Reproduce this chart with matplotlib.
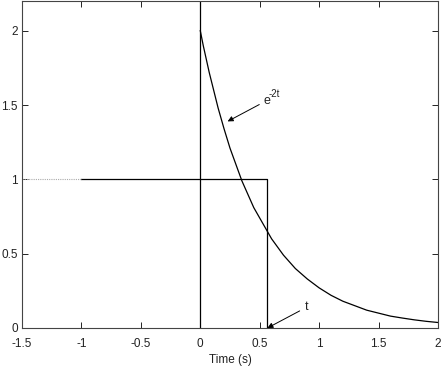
import matplotlib.pyplot as plt

plt.rcParams['font.family'] = ['Liberation Sans', 'DejaVu Sans']
plt.rcParams['axes.unicode_minus'] = False

# decaying curve
curve_t = [0.0, 0.025, 0.05, 0.075, 0.1, 0.125, 0.15, 0.175, 0.2, 0.25, 0.3,
           0.35, 0.4, 0.45, 0.5, 0.55, 0.6, 0.65, 0.7, 0.75, 0.8, 0.85, 0.9,
           0.95, 1.0, 1.1, 1.2, 1.3, 1.4, 1.5, 1.6, 1.7, 1.8, 1.9, 2.0]
curve_v = [2.00, 1.90, 1.81, 1.72, 1.64, 1.56, 1.48, 1.41, 1.34, 1.21, 1.10,
           0.99, 0.90, 0.81, 0.74, 0.67, 0.60, 0.545, 0.49, 0.445, 0.40, 0.365,
           0.33, 0.30, 0.27, 0.22, 0.18, 0.15, 0.12, 0.10, 0.08, 0.067, 0.055,
           0.045, 0.037]

# pulse of height 1 ending at t
pulse_x = [-1.0, 0.56, 0.56]
pulse_y = [1.0, 1.0, 0.0]
dotted_x = [-1.5, -1.0]
dotted_y = [1.0, 1.0]

xticks = [-1.5, -1, -0.5, 0, 0.5, 1, 1.5, 2]
xticklabels = ['-1.5', '-1', '-0.5', '0', '0.5', '1', '1.5', '2']
yticks = [0, 0.5, 1, 1.5, 2]
yticklabels = ['0', '0.5', '1', '1.5', '2']

fig = plt.figure(figsize=(4.44, 3.66), dpi=100)
ax = fig.add_axes([22 / 444, 38 / 366, 416 / 444, 327 / 366])

ax.plot(curve_t, curve_v, color='black', lw=0.9)
ax.plot(pulse_x, pulse_y, color='black', lw=0.9)
ax.plot(dotted_x, dotted_y, color='#aaaaaa', lw=0.8, ls=(0, (1, 1)))
ax.plot([0, 0], [0, 2.2], color='black', lw=0.9)

ax.set_xlim(-1.5, 2)
ax.set_ylim(0, 2.2)
ax.set_xticks(xticks)
ax.set_xticklabels(xticklabels)
ax.set_yticks(yticks)
ax.set_yticklabels(yticklabels)
ax.tick_params(direction='in', length=4, width=0.7, top=True, right=True,
               labelsize=8.5, colors='#222222')
ax.tick_params(axis='x', pad=7)
ax.tick_params(axis='y', pad=3)
for sp in ax.spines.values():
    sp.set_linewidth(0.8)
    sp.set_color('#444444')

ax.set_xlabel('Time (s)', fontsize=8.5, color='#222222', labelpad=3)

# e^-2t label: base letter plus a raised exponent
ax.annotate('e', xy=(0.23, 1.39), xytext=(0.53, 1.53),
            fontsize=9, color='#222222', va='center', ha='left',
            arrowprops=dict(arrowstyle='-|>', color='black', lw=0.7,
                            mutation_scale=8, shrinkA=1, shrinkB=0))
ax.text(0.578, 1.575, '-2t', fontsize=7, color='#222222', va='center', ha='left')

ax.annotate('t', xy=(0.565, 0.0), xytext=(0.88, 0.14),
            fontsize=9, color='#222222', va='center', ha='left',
            arrowprops=dict(arrowstyle='-|>', color='black', lw=0.7,
                            mutation_scale=8, shrinkA=2, shrinkB=0))

fig.savefig('out.png', dpi=100)
